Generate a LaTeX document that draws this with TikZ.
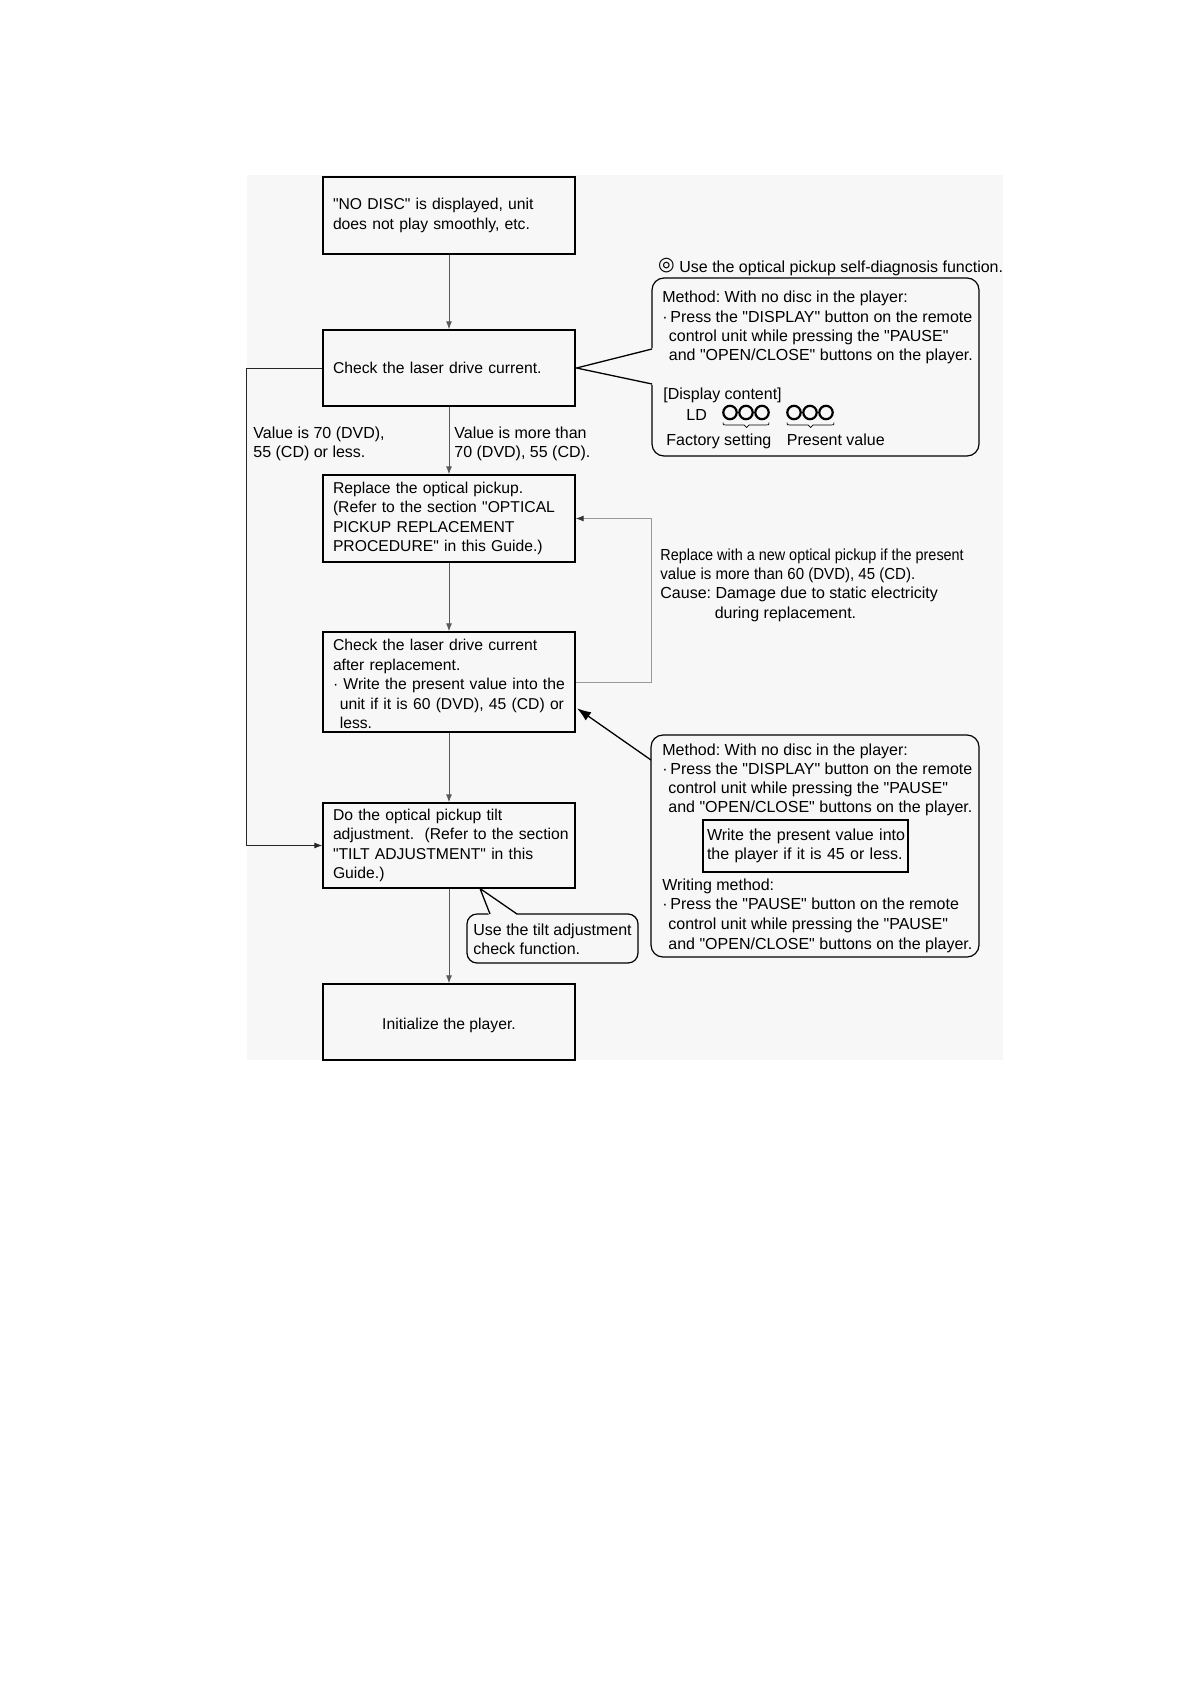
\documentclass[tikz,border=0pt]{standalone}
\usepackage{fontspec}
\usepackage{graphicx}
\defaultfontfeatures{}
\defaultfontfeatures[\rmfamily]{}
\setmainfont{Liberation Sans}
\newfontfamily\dejavu{DejaVu Sans}
\usetikzlibrary{arrows.meta}
\frenchspacing
\newcommand\mfa{\fontsize{7.85pt}{9.75pt}\selectfont}
\newcommand\mfg{\fontsize{8pt}{9.75pt}\selectfont}
\newcommand\mfb{\fontsize{8pt}{9.65pt}\selectfont}
\newcommand\mfc{\fontsize{8pt}{9.5pt}\selectfont}
\newcommand\mfe{\fontsize{8pt}{9.8pt}\selectfont}
\begin{document}
\begin{tikzpicture}[x=0.5pt,y=-0.5pt,
  box/.style={draw, line width=0.65pt, minimum width=126pt, text width=116pt, inner xsep=5pt, inner ysep=0pt, align=left, font=\mfa},
  flow/.style={draw=black!65, line width=0.5pt, -{Latex[length=4pt,width=3pt]}},
  txt/.style={inner sep=0pt, anchor=north west, align=left},
  btxt/.style={inner sep=0pt, anchor=base west, font=\mfg},
  call/.style={draw, line width=0.6pt, rounded corners=6pt},
  ptr/.style={draw, line width=0.65pt, line join=miter},
]
\useasboundingbox (0,0) rectangle (1191,1685);
\fill[white] (0,0) rectangle (1191,1685);
\fill[black!3] (247,175) rectangle (1003,1060);

% main boxes
\node[box, minimum height=38.5pt] (b1) at (449,215.5) {\mbox{"NO DISC" is displayed, unit}\\\mbox{does not play smoothly, etc.}};
\node[box, minimum height=38pt] (b2) at (449,368) {\mbox{Check the laser drive current.}};
\node[box, minimum height=43.5pt] (b3) at (449,518.5) {\mbox{Replace the optical pickup.}\\\mbox{(Refer to the section "OPTICAL}\\\mbox{PICKUP REPLACEMENT}\\\mbox{PROCEDURE" in this Guide.)}};
\node[box, minimum height=50pt] (b4) at (449,682) {\mbox{\rule{0pt}{8pt}Check the laser drive current}\\\mbox{after replacement.}\\\mbox{·\ Write the present value into the}\\\mbox{\hspace*{3.4pt}unit if it is 60 (DVD), 45 (CD) or}\\\mbox{\hspace*{3.4pt}less.}};
\node[box, minimum height=42.5pt] (b5) at (449,845.5) {\mbox{Do the optical pickup tilt}\\\mbox{adjustment.\ \ (Refer to the section}\\\mbox{"TILT ADJUSTMENT" in this}\\\mbox{Guide.)}};
\node[box, minimum height=38pt] (b6) at (449,1022) {};
\node[anchor=base, inner sep=0pt, font=\mfa] (b6t) at (449,1029.5) {Initialize the player.};

% flow arrows
\draw[flow] (b1) -- (b2);
\draw[flow] (b2) -- (b3);
\draw[flow] (b3) -- (b4);
\draw[flow] (b4) -- (b5);
\draw[flow] (b5) -- (b6);
\draw[flow, draw=black!85] (b2.west) -- ++(-76,0) |- (b5.west);
\draw[draw=black!40, line width=0.5pt, -{Latex[length=4pt,width=3pt,color=black!80]}] (b4.east) -- ++(76,0) |- (b3.east);

% branch labels
\node[txt, font=\mfc] (l1) at (253,426.3) {Value is 70 (DVD),\\55 (CD) or less.};
\node[txt, font=\mfc] (l2) at (454,426.3) {Value is more than\\70 (DVD), 55 (CD).};

% callout 1
\node[inner sep=0pt, font=\dejavu\bfseries\fontsize{9.5pt}{10pt}\selectfont] (h0) at (666.5,266) {◎};
\node[btxt] (h1) at (679,272) {Use the optical pickup self-diagnosis function.};
\node[call, minimum width=163.5pt, minimum height=89pt] (c1) at (815.5,367) {};
\coordinate (p1a) at (652,349);
\coordinate (p1b) at (652,384);
\coordinate (t1) at (576.5,368);
\fill[black!3] (t1) -- (653.5,348) -- (653.5,385) -- cycle;
\draw[ptr] (p1a) -- (t1) -- (p1b);
\node[txt, font=\mfb] (m1) at (662,290.9) {Method: With no disc in the player:\\·\,Press the "DISPLAY" button on the remote\\\hspace*{3.25pt}control unit while pressing the "PAUSE"\\\hspace*{3.25pt}and "OPEN/CLOSE" buttons on the player.};
\node[btxt] (dc) at (663,399) {[Display content]};
\node[btxt] (ld) at (686,420) {LD};
\foreach \cx in {730,746,762,794,810,826} \draw[line width=1.1pt] (\cx,412.5) circle (3.35pt);
\draw[line width=0.35pt] (723,422.5) .. controls (723,425) .. (726,425) -- (744,425) -- (746.5,427.5) -- (749,425) -- (766,425) .. controls (769,425) .. (769,422.5);
\draw[line width=0.35pt] (787,422.5) .. controls (787,425) .. (790,425) -- (808,425) -- (810.5,427.5) -- (813,425) -- (831,425) .. controls (834,425) .. (834,422.5);
\node[btxt] (fs) at (666,445) {Factory setting};
\node[btxt] (pv) at (786.5,445) {Present value};

% feedback note
\node[txt, font=\mfb] (fn) at (660,548.3) {\scalebox{0.9}[1]{Replace with a new optical pickup if the present}\\\scalebox{0.94}[1]{value is more than 60 (DVD), 45 (CD).}\\Cause: Damage due to static electricity\\\hspace*{27.2pt}during replacement.};

% callout 2
\node[call, minimum width=164pt, minimum height=111pt] (c2) at (815,846) {};
\coordinate (p2) at (651,760);
\coordinate (t2) at (577,708.3);
\draw[ptr, -{Latex[length=7pt,width=5pt]}] (p2) -- (t2);
\node[txt, font=\mfc] (m2) at (662,743.3) {Method: With no disc in the player:\\·\,Press the "DISPLAY" button on the remote\\\hspace*{3pt}control unit while pressing the "PAUSE"\\\hspace*{3pt}and "OPEN/CLOSE" buttons on the player.};
\node[draw, line width=0.6pt, text width=98.5pt, inner xsep=2pt, inner ysep=0pt, minimum height=26pt, align=left, font=\mfc] (ib) at (805.5,846) {\mbox{Write the present value into}\\\mbox{the player if it is 45 or less.}};
\node[txt, font=\mfe] (wm) at (662,878.3) {Writing method:\\·\,Press the "PAUSE" button on the remote\\\hspace*{3pt}control unit while pressing the "PAUSE"\\\hspace*{3pt}and "OPEN/CLOSE" buttons on the player.};

% callout 3
\node[call, rounded corners=5pt, minimum width=85.5pt, minimum height=24.5pt] (c3) at (552.5,938.5) {};
\coordinate (t3) at (480,888.5);
\coordinate (p3a) at (490,914);
\coordinate (p3b) at (517,914);
\fill[black!3] (t3) -- (489,915.5) -- (518,915.5) -- cycle;
\draw[ptr] (p3a) -- (t3) -- (p3b);
\node[txt, font=\mfc] (u3) at (473,923.3) {Use the tilt adjustment\\check function.};
\end{tikzpicture}
\end{document}
